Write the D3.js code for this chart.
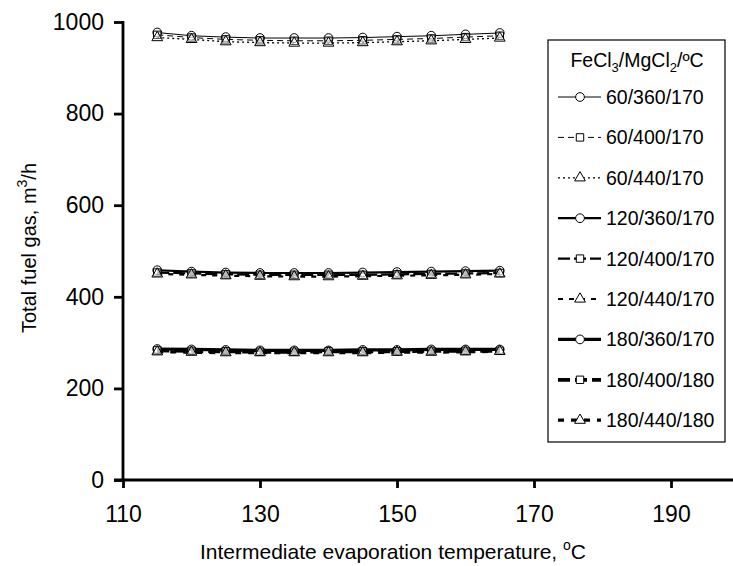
<!DOCTYPE html>
<html><head><meta charset="utf-8">
<script src="https://cdn.jsdelivr.net/npm/d3@7"></script>
<style>body{margin:0;background:#fff}svg{display:block;font-family:"Liberation Sans",Arial,sans-serif}</style>
</head><body><svg id="c" width="733" height="566"></svg>
<script>
const temps = [115,120,125,130,135,140,145,150,155,160,165];
const seriesNames = ["60/360/170","60/400/170","60/440/170","120/360/170","120/400/170","120/440/170","180/360/170","180/400/180","180/440/180"];
const s60_360 = [977,970,967,965,965,965,966,968,970,973,976];
const s60_400 = [972,966,962,960,959,959,960,962,964,967,970];
const s60_440 = [966,962,957,955,954,954,955,957,959,962,965];
const s120_360 = [458,455,453,452,452,452,453,454,455,456,457];
const s120_400 = [453,451,449,448,448,448,448,449,450,451,452];
const s120_440 = [450,448,446,445,444,444,445,446,447,448,450];
const s180_360 = [286,285,284,283,283,283,284,284,285,285,285];
const s180_400 = [283,282,281,280,280,281,281,281,282,282,282];
const s180_440 = [280,279,278,278,278,278,278,279,279,280,281];
const xTicks = [110,130,150,170,190];
const yTicks = [0,200,400,600,800,1000];

const values = [s60_360,s60_400,s60_440,s120_360,s120_400,s120_440,s180_360,s180_400,s180_440];
const widths = [1,1,1.3,2.2,2.2,2.2,3.2,3.8,3.2];
const dashes = [null,"6,4","2,3",null,"12,4","5,6",null,"12,5","6,7"];
const shapes = ["circle","square","triangle","circle","square","triangle","circle","square","triangle"];

const svg = d3.select("#c");
const x = d3.scaleLinear().domain([110,200]).range([123,739.5]);
const y = d3.scaleLinear().domain([0,1000]).range([480,22]);

const xAxis = svg.append("g").attr("transform","translate(0,480)")
  .call(d3.axisBottom(x).tickValues(xTicks).tickFormat(d3.format("d")).tickSize(8).tickSizeOuter(0).tickPadding(18));
const yAxis = svg.append("g").attr("transform","translate(123,0)")
  .call(d3.axisLeft(y).tickValues(yTicks).tickFormat(d3.format("d")).tickSize(9).tickSizeOuter(0).tickPadding(10));
[xAxis,yAxis].forEach(a=>{
  a.select(".domain").attr("stroke","#000").attr("stroke-width",2.8);
  a.selectAll(".tick line").attr("stroke","#000").attr("stroke-width",2.8);
  a.selectAll(".tick text").attr("font-size",23).attr("fill","#000").attr("font-family","Liberation Sans, Arial, sans-serif");
});
yAxis.select(".domain").attr("d","M0,481V21");
xAxis.select(".domain").attr("d","M" + (123-9) + ",0H733");

const symMap = {circle:d3.symbolCircle,square:d3.symbolSquare,triangle:d3.symbolTriangle};
const symSize = {circle:60,square:55,triangle:50};
const line = d3.line().x((d,i)=>x(temps[i])).y(d=>y(d));

values.forEach((vals,k)=>{
  svg.append("path").datum(vals).attr("d",line).attr("fill","none")
    .attr("stroke","#000").attr("stroke-width",widths[k])
    .attr("stroke-dasharray",dashes[k]);
});
values.forEach((vals,k)=>{
  svg.append("g").selectAll("path").data(vals).join("path")
    .attr("transform",(d,i)=>`translate(${x(temps[i])},${y(d)})`)
    .attr("d",d3.symbol().type(symMap[shapes[k]]).size(symSize[shapes[k]]))
    .attr("fill","#fff").attr("fill-opacity",0.35).attr("stroke","#000").attr("stroke-width",1);
});

// legend
const lg = svg.append("g");
lg.append("rect").attr("x",548).attr("y",40).attr("width",177).attr("height",402)
  .attr("fill","#fff").attr("stroke","#000").attr("stroke-width",1.2);
const title = lg.append("text").attr("x",637).attr("y",67).attr("text-anchor","middle")
  .attr("font-size",19.5).attr("fill","#000");
title.append("tspan").text("FeCl");
title.append("tspan").text("3").attr("font-size",13).attr("dy",5);
title.append("tspan").text("/MgCl").attr("dy",-5);
title.append("tspan").text("2").attr("font-size",13).attr("dy",5);
title.append("tspan").text("/ºC").attr("dy",-5);
seriesNames.forEach((name,k)=>{
  const cy = 97 + k*40.4;
  lg.append("line").attr("x1",558).attr("x2",601).attr("y1",cy).attr("y2",cy)
    .attr("stroke","#000").attr("stroke-width",widths[k]).attr("stroke-dasharray",dashes[k]);
  lg.append("path").attr("transform",`translate(580,${cy})`)
    .attr("d",d3.symbol().type(symMap[shapes[k]]).size(symSize[shapes[k]]))
    .attr("fill","#fff").attr("stroke","#000").attr("stroke-width",1);
  lg.append("text").attr("x",606).attr("y",cy+7).attr("font-size",19.5).attr("fill","#000").text(name);
});

// axis titles
const xt = svg.append("text").attr("x",393).attr("y",559).attr("text-anchor","middle")
  .attr("font-size",21).attr("fill","#000");
xt.append("tspan").text("Intermediate evaporation temperature, ");
xt.append("tspan").text("o").attr("font-size",14).attr("dy",-9);
xt.append("tspan").text("C").attr("dy",9);
const yt = svg.append("text").attr("transform","translate(36,248) rotate(-90)").attr("text-anchor","middle")
  .attr("font-size",20).attr("fill","#000");
yt.append("tspan").text("Total fuel gas, m");
yt.append("tspan").text("3").attr("font-size",14).attr("dy",-9);
yt.append("tspan").text("/h").attr("dy",9);
</script></body></html>
